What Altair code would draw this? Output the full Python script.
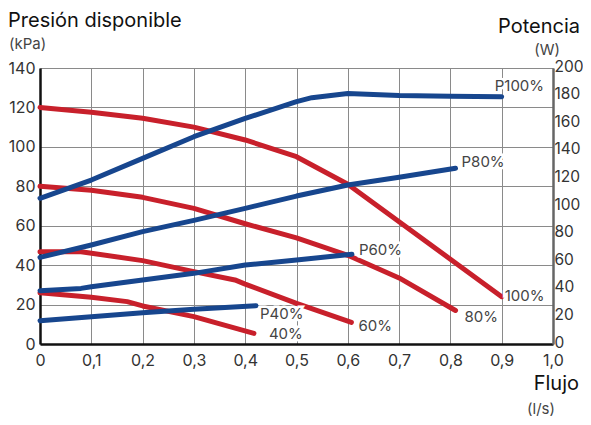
import altair as alt
import pandas as pd

FONT = "Inter"
RED = "#C8202B"
BLUE = "#17468E"

# Pressure curves (kPa, left axis)
p100_x = [0.0, 0.1, 0.2, 0.3, 0.4, 0.5, 0.6, 0.7, 0.8, 0.9]
p100_y = [120, 117.5, 114.5, 110, 103.5, 95, 81, 62, 43, 24]
p80_x = [0.0, 0.1, 0.2, 0.3, 0.4, 0.5, 0.6, 0.7, 0.81]
p80_y = [80, 78, 74.4, 68.8, 61, 53.8, 45, 33.5, 17]
p60_x = [0.0, 0.08, 0.2, 0.3, 0.38, 0.4, 0.5, 0.607]
p60_y = [46.8, 46.8, 42.3, 36.7, 32.5, 30.4, 20.6, 11]
p40_x = [0.0, 0.1, 0.17, 0.2, 0.3, 0.417]
p40_y = [26, 23.7, 21.5, 19.3, 13.9, 5.4]

# Power curves (W, right axis)
w100_x = [0.0, 0.1, 0.2, 0.3, 0.4, 0.5, 0.53, 0.6, 0.7, 0.8, 0.9]
w100_y = [105.6, 118.8, 134.5, 150.2, 163.5, 175.6, 178.5, 181.5, 180, 179.5, 179.2]
w80_x = [0.0, 0.1, 0.2, 0.3, 0.4, 0.5, 0.6, 0.7, 0.81]
w80_y = [62.8, 71.7, 81.4, 89.6, 98.3, 107.2, 115.2, 120.8, 127.3]
w60_x = [0.0, 0.08, 0.1, 0.2, 0.3, 0.4, 0.5, 0.608]
w60_y = [38.6, 40.3, 41.5, 46.4, 51.2, 57.2, 60.9, 65]
w40_x = [0.0, 0.1, 0.2, 0.3, 0.421]
w40_y = [16.9, 19.8, 22.7, 25.1, 27.8]

red_series = [("100%", p100_x, p100_y), ("80%", p80_x, p80_y),
              ("60%", p60_x, p60_y), ("40%", p40_x, p40_y)]
blue_series = [("P100%", w100_x, w100_y), ("P80%", w80_x, w80_y),
               ("P60%", w60_x, w60_y), ("P40%", w40_x, w40_y)]

# label offsets (px) relative to each curve's end point
red_off = {"100%": (3, -1), "80%": (9, 7), "60%": (7, 4), "40%": (15, 1)}
blue_off = {"P100%": (-7, -11), "P80%": (6, -6), "P60%": (7, -4), "P40%": (4, 8)}

W, H = 513, 276

def frame(series):
    rows = []
    for name, xs, ys in series:
        for i, (a, b) in enumerate(zip(xs, ys)):
            rows.append({"s": name, "x": a, "y": b, "i": i})
    return pd.DataFrame(rows)

red_df = frame(red_series)
blue_df = frame(blue_series)

xscale = alt.Scale(domain=[0, 1], nice=False, zero=False)
x_enc = alt.X("x:Q", scale=xscale, axis=alt.Axis(
    values=[round(v * 0.1, 1) for v in range(11)],
    labelExpr="datum.value == 0 ? '0' : replace(format(datum.value, '.1f'), '.', ',')",
    grid=True, gridColor="#8a8a8a", gridWidth=1, ticks=False,
    domainColor="#111", domainWidth=2.5, labelFontSize=16, labelColor="#333",
    labelFont=FONT, labelPadding=8, labelFlush=False, labelOverlap=False,
    title=None))

left_scale = alt.Scale(domain=[0, 140], nice=False)
right_scale = alt.Scale(domain=[0, 200], nice=False)

y_left = alt.Y("y:Q", scale=left_scale, axis=alt.Axis(
    values=list(range(0, 141, 20)), grid=True, gridColor="#8a8a8a",
    gridWidth=1, ticks=False, domainColor="#111", domainWidth=2.5,
    labelFontSize=16, labelColor="#333", labelFont=FONT, labelFlush=False,
    labelPadding=5, title=None, orient="left"))
y_right = alt.Y("y:Q", scale=right_scale, axis=alt.Axis(
    values=list(range(0, 201, 20)), grid=False, ticks=False,
    domainColor="#666", domainWidth=2.5, labelFontSize=15.5, labelFlush=False,
    labelOverlap=False, labelOffset=-2,
    labelColor="#333", labelFont=FONT, labelPadding=1, title=None,
    orient="right"))

red_lines = alt.Chart(red_df).mark_line(
    color=RED, strokeWidth=5, strokeCap="round", strokeJoin="round").encode(
    x=x_enc, y=y_left, detail="s:N", order="i:Q")

blue_lines = alt.Chart(blue_df).mark_line(
    color=BLUE, strokeWidth=5, strokeCap="round", strokeJoin="round").encode(
    x=x_enc, y=y_right, detail="s:N", order="i:Q")

def labels(series, offs, yenc):
    layers = []
    for name, xs, ys in series:
        d = pd.DataFrame({"x": [xs[-1]], "y": [ys[-1]], "t": [name]})
        dx, dy = offs[name]
        for halo in (True, False):
            kw = dict(align="left", baseline="middle", dx=dx, dy=dy,
                      fontSize=15, font=FONT, color="#444")
            if halo:
                kw.update(stroke="white", strokeWidth=5, color="white")
            layers.append(alt.Chart(d).mark_text(**kw).encode(
                x=x_enc, y=yenc, text="t:N"))
    return layers

left_layer = alt.layer(red_lines, *labels(red_series, red_off, y_left))
right_layer = alt.layer(blue_lines, *labels(blue_series, blue_off, y_right))

titles = pd.DataFrame({"t": ["Presión disponible", "(kPa)", "Potencia", "(W)",
                             "Flujo", "(l/s)"]})
title_specs = [
    ("Presión disponible", -32, -41, "left", 20, "#111"),
    ("(kPa)", -31, -19, "left", 15, "#444"),
    ("Potencia", 540, -35, "right", 20, "#111"),
    ("(W)", 520, -13, "right", 15, "#444"),
    ("Flujo", 539, 322, "right", 20, "#111"),
    ("(l/s)", 515, 346, "right", 15, "#444"),
]
title_layers = []
for txt, px, py, al, fs, col in title_specs:
    title_layers.append(alt.Chart(titles).transform_filter(
        alt.datum.t == txt).mark_text(
        align=al, baseline="alphabetic", fontSize=fs, font=FONT, color=col).encode(
        x=alt.value(px), y=alt.value(py), text="t:N"))

chart = alt.layer(left_layer, right_layer, *title_layers).resolve_scale(
    y="independent").properties(
    width=W, height=H,
    autosize=alt.AutoSizeParams(type="none"),
    padding={"left": 32, "top": 60, "right": 30, "bottom": 73},
).configure_view(stroke="#777", strokeWidth=2).configure(background="white")

chart.save("out.html", embed_options={"renderer": "svg", "actions": False})
